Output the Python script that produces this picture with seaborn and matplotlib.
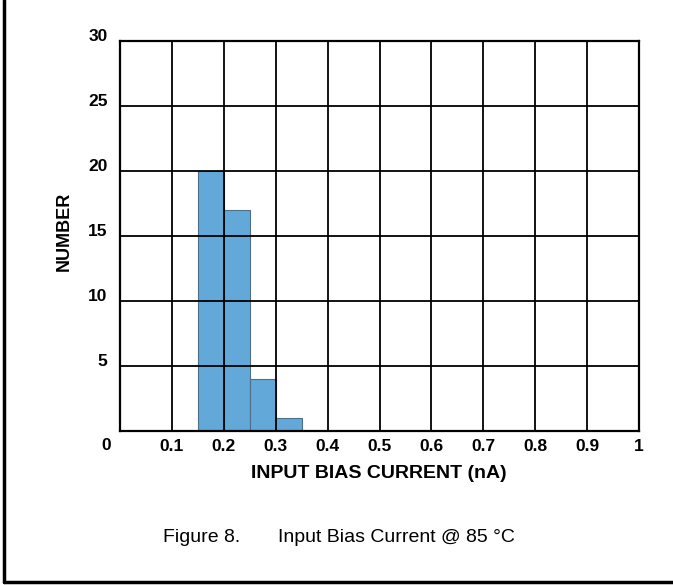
import numpy as np
import pandas as pd
import matplotlib
matplotlib.use("Agg")
import matplotlib.pyplot as plt
import matplotlib.transforms as mtransforms
import seaborn as sns

# Data
bin_centers = [0.175, 0.225, 0.275, 0.325]   # input bias current (nA), bin centres
counts = [20, 17, 4, 1]
bin_width = 0.05
x_ticks = [0.1, 0.2, 0.3, 0.4, 0.5, 0.6, 0.7, 0.8, 0.9, 1.0]
x_tick_labels = ["0.1", "0.2", "0.3", "0.4", "0.5", "0.6", "0.7", "0.8", "0.9", "1"]
y_ticks = [5, 10, 15, 20, 25, 30]
y_tick_labels = ["5", "10", "15", "20", "25", "30"]

sns.set_style("white")
FAM = ['Liberation Sans', 'DejaVu Sans']
plt.rcParams['font.family'] = FAM
plt.rcParams['text.color'] = 'black'
plt.rcParams['xtick.color'] = 'black'
plt.rcParams['ytick.color'] = 'black'

W, H = 673, 585
fig = plt.figure(figsize=(W / 100, H / 100), dpi=100)
ax = fig.add_axes([120 / W, 1 - 431 / H, (639 - 120) / W, (431 - 41) / H])

df = pd.DataFrame({"current": bin_centers, "count": counts})
sns.histplot(data=df, x="current", weights="count", binwidth=bin_width,
             binrange=(0.15, 0.35), color="#62a9d9", alpha=1.0,
             edgecolor="#4d6f88", linewidth=0.8, ax=ax, zorder=1)

ax.set_xlim(0, 1)
ax.set_ylim(0, 30)
ax.set_xticks(x_ticks)
ax.set_xticklabels(x_tick_labels)
ax.set_yticks(y_ticks)
ax.set_yticklabels(y_tick_labels)
ax.set_axisbelow(False)
ax.grid(True, color="black", linewidth=1.3, zorder=3)
for s in ax.spines.values():
    s.set_color("black")
    s.set_linewidth(1.6)
    s.set_zorder(4)

ax.tick_params(axis="both", length=0, labelsize=12.5, colors="black")
ax.tick_params(axis="x", pad=6)
ax.tick_params(axis="y", pad=9)
for lab in ax.get_xticklabels() + ax.get_yticklabels():
    lab.set_fontweight("bold")
off = mtransforms.ScaledTranslation(0, 6 / 100, fig.dpi_scale_trans)
for lab in ax.get_yticklabels():
    lab.set_transform(lab.get_transform() + off)

ax.set_xlabel("")
ax.set_ylabel("")
fig.text(106 / W, 1 - 446 / H, "0", ha="center", va="center",
         fontsize=12.5, fontweight="bold")
fig.text(379 / W, 1 - 473 / H, "INPUT BIAS CURRENT (nA)", ha="center", va="center",
         fontsize=14, fontweight="bold")
fig.text(64 / W, 1 - 231 / H, "NUMBER", ha="center", va="center",
         rotation=90, fontsize=13, fontweight="bold")

fig.text(163 / W, 1 - 538 / H, "Figure 8.", ha="left", va="center", fontsize=14)
fig.text(278 / W, 1 - 538 / H, "Input Bias Current @ 85 °C", ha="left", va="center",
         fontsize=14)

# page frame (left and bottom)
fig.add_artist(plt.Line2D([4 / W, 4 / W], [1 - 582 / H, 1.0], color="black",
                          linewidth=2.5, transform=fig.transFigure))
fig.add_artist(plt.Line2D([4 / W, 1.0], [1 - 582 / H, 1 - 582 / H], color="black",
                          linewidth=2.5, transform=fig.transFigure))

fig.savefig("out.png", dpi=100, facecolor="white")
